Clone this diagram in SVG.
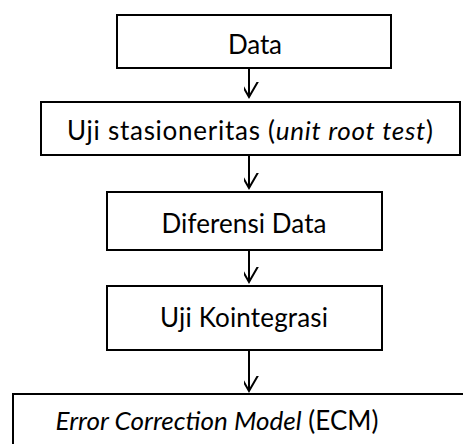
<svg xmlns="http://www.w3.org/2000/svg" width="463" height="444" viewBox="0 0 463 444">
<defs>
<style>
.box{fill:#fff;stroke:#000;stroke-width:2}
.lbl{font-family:Lato,"Open Sans",sans-serif;font-size:26px;fill:#000;text-anchor:middle}
.conn{stroke:#000;stroke-width:2;fill:none}
</style>
<marker id="arr" markerUnits="userSpaceOnUse" markerWidth="30" markerHeight="30" viewBox="-15 -25 30 30" refX="0" refY="0" orient="auto-start-reverse">
<path d="M-11,-19 L0,0 L11,-19" fill="none" stroke="#000" stroke-width="2" transform="rotate(-90)"/>
</marker>
</defs>
<g id="connectors">
<line class="conn" x1="249" y1="68" x2="249" y2="97" marker-end="url(#arr)"/>
<line class="conn" x1="249" y1="156" x2="249" y2="188" marker-end="url(#arr)"/>
<line class="conn" x1="249" y1="250" x2="249" y2="282" marker-end="url(#arr)"/>
<line class="conn" x1="249" y1="350" x2="249" y2="391" marker-end="url(#arr)"/>
</g>
<g id="n1"><rect class="box" x="117" y="15" width="274" height="53"/><text class="lbl" x="255" y="54" textLength="54">Data</text></g>
<g id="n2"><rect class="box" x="41" y="102" width="419" height="53"/><text class="lbl" x="250" y="140" textLength="366">Uji stasioneritas (<tspan font-style="italic">unit root test</tspan>)</text></g>
<g id="n3"><rect class="box" x="107" y="192" width="275" height="58"/><text class="lbl" x="244" y="233" textLength="165">Diferensi Data</text></g>
<g id="n4"><rect class="box" x="107" y="286" width="275" height="64"/><text class="lbl" x="244" y="327" textLength="168">Uji Kointegrasi</text></g>
<g id="n5"><rect class="box" x="13" y="394" width="460" height="60"/><text class="lbl" x="217" y="430" textLength="323"><tspan font-style="italic">Error Correction Model</tspan> (ECM)</text></g>
</svg>
